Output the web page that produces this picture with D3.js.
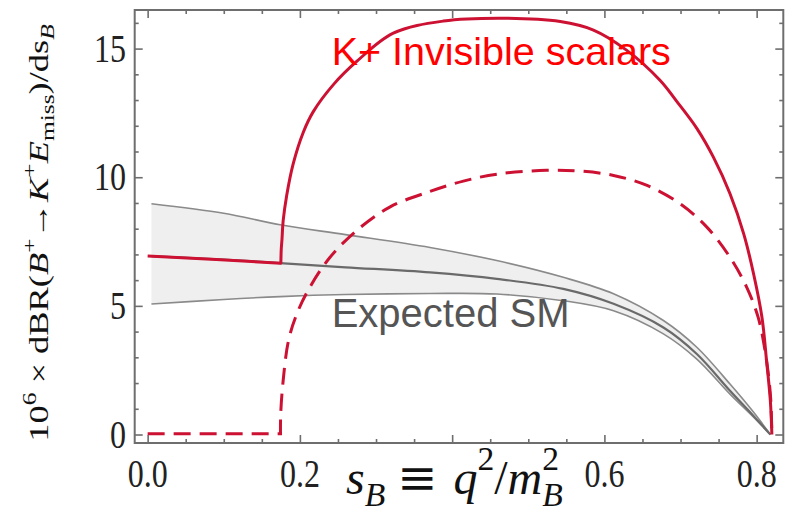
<!DOCTYPE html>
<html>
<head>
<meta charset="utf-8">
<script src="https://cdn.jsdelivr.net/npm/d3@7"></script>
<style>
  html, body { margin: 0; padding: 0; background: #fff; }
  svg { display: block; }
</style>
</head>
<body>
<svg id="chart" width="793" height="515"></svg>
<script>
// ---- data: differential branching ratio vs s_B = q^2 / m_B^2 ----
// Standard Model band (upper edge, central value, lower edge)
const sSM       = [0.005, 0.1, 0.174, 0.26, 0.371, 0.4586, 0.546, 0.612, 0.6775, 0.7214, 0.765, 0.795, 0.818];
const smUpper   = [8.97, 8.6, 8.15, 7.77, 7.27, 6.76, 6.11, 5.47, 4.43, 3.39, 1.96, 0.9, 0];
const smCentral = [6.93, 6.80, 6.66, 6.5, 6.30, 6.05, 5.66, 5.08, 4.16, 3.13, 1.70, 0.75, 0];
const smLower   = [5.07, 5.25, 5.36, 5.44, 5.48, 5.46, 5.20, 4.81, 3.91, 2.93, 1.57, 0.7, 0];

// SM + invisible scalar pair (solid), threshold at s_B ~ 0.175
const sTotal   = [0, 0.09, 0.175, 0.1755, 0.1765, 0.178, 0.1827, 0.191, 0.2045, 0.2176, 0.244, 0.2746, 0.3227, 0.3885, 0.467, 0.542, 0.5856, 0.629, 0.673, 0.695, 0.7214, 0.743, 0.765, 0.783, 0.796, 0.807, 0.813, 0.818, 0.820];
const totalVal = [6.94, 6.80, 6.66, 7.2, 7.6, 8.3, 9.3, 10.5, 11.75, 12.55, 13.6, 14.5, 15.6, 16.07, 16.18, 16.05, 15.72, 14.94, 13.77, 12.95, 11.9, 10.79, 9.36, 7.80, 6.24, 4.55, 2.87, 1.31, 0];
const thresholdIndex = 2;

// Scalar contribution alone (dashed)
const sScalar   = [0, 0.1745, 0.1748, 0.178, 0.185, 0.196, 0.213, 0.2396, 0.2746, 0.318, 0.371, 0.4147, 0.4586, 0.524, 0.568, 0.612, 0.656, 0.6995, 0.7346, 0.765, 0.787, 0.802, 0.811, 0.818, 0.820];
const scalarVal = [0.03, 0.03, 0.8, 2.09, 3.65, 4.69, 5.72, 6.89, 7.93, 8.84, 9.45, 9.85, 10.12, 10.27, 10.24, 10.07, 9.68, 8.97, 8.06, 6.89, 5.72, 4.55, 3.26, 1.57, 0];
const scalarThresholdIndex = 1;

// axis ticks and labels
const xMajor = [0, 0.2, 0.4, 0.6, 0.8];
const xLabelled = [0, 0.2, 0.6, 0.8];
const xMinor = [0.05, 0.1, 0.15, 0.25, 0.3, 0.35, 0.45, 0.5, 0.55, 0.65, 0.7, 0.75];
const yMajor = [0, 5, 10, 15];
const yMinor = [1, 2, 3, 4, 6, 7, 8, 9, 11, 12, 13, 14, 16];

const labelScalar = "K+ Invisible scalars";
const labelSM = "Expected SM";

// ---- layout ----
const svg = d3.select("#chart");
const L = 134.7, R = 783.3, T = 10, B = 443;
const x = d3.scaleLinear().domain([-0.017, 0.835]).range([L, R]);
const y = d3.scaleLinear().domain([-0.33, 16.5]).range([B, T]);

const frameColor = "#6e6e6e";
const red = "#cc1133";
const serif = "'Liberation Serif', 'DejaVu Serif', serif";
const sans = "'Liberation Sans', Arial, sans-serif";

const zip = (xs, ys) => xs.map((s, i) => [s, ys[i]]);
const smooth = d3.curveCatmullRom.alpha(0.5);

// ---- SM band ----
const band = sSM.map((s, i) => ({ s, lo: smLower[i], hi: smUpper[i] }));
svg.append("path")
  .attr("d", d3.area().x(d => x(d.s)).y0(d => y(d.lo)).y1(d => y(d.hi)).curve(smooth)(band))
  .attr("fill", "#efefef");

const line = d3.line().x(d => x(d[0])).y(d => y(d[1])).curve(smooth);
[[smUpper, "#8a8a8a", 1.6], [smLower, "#8a8a8a", 1.6], [smCentral, "#6a6a6a", 2.2]].forEach(([vals, c, w]) => {
  svg.append("path").attr("d", line(zip(sSM, vals)))
    .attr("fill", "none").attr("stroke", c).attr("stroke-width", w);
});

// ---- red curves: straight below threshold, smooth above ----
const linear = d3.line().x(d => x(d[0])).y(d => y(d[1]));
function thresholdPath(xs, ys, k) {
  const pts = zip(xs, ys);
  const below = linear(pts.slice(0, k + 1));
  const above = line(pts.slice(k)).replace(/^M/, "L");
  return below + above;
}

svg.append("path")
  .attr("d", thresholdPath(sScalar, scalarVal, scalarThresholdIndex))
  .attr("fill", "none").attr("stroke", red).attr("stroke-width", 3)
  .attr("stroke-dasharray", "17,9");

svg.append("path")
  .attr("d", thresholdPath(sTotal, totalVal, thresholdIndex))
  .attr("fill", "none").attr("stroke", red).attr("stroke-width", 3)
  .attr("stroke-linejoin", "round");

// ---- frame and ticks (inward, on all four sides) ----
const axes = svg.append("g").attr("class", "axes");
function addAxis(axisFn, scale, values, size, transform) {
  const g = axes.append("g").attr("transform", transform)
    .call(axisFn(scale).tickValues(values).tickSize(-size).tickFormat(""));
  g.select(".domain").remove();
  g.selectAll(".tick line").attr("stroke", frameColor).attr("stroke-width", 1.6);
  return g;
}
addAxis(d3.axisBottom, x, xMajor, 8, `translate(0,${B})`);
addAxis(d3.axisBottom, x, xMinor, 4, `translate(0,${B})`);
addAxis(d3.axisTop, x, xMajor, 8, `translate(0,${T})`);
addAxis(d3.axisTop, x, xMinor, 4, `translate(0,${T})`);
addAxis(d3.axisLeft, y, yMajor, 8, `translate(${L},0)`);
addAxis(d3.axisLeft, y, yMinor, 4, `translate(${L},0)`);
addAxis(d3.axisRight, y, yMajor, 8, `translate(${R},0)`);
addAxis(d3.axisRight, y, yMinor, 4, `translate(${R},0)`);

axes.append("rect")
  .attr("x", L).attr("y", T).attr("width", R - L).attr("height", B - T)
  .attr("fill", "none").attr("stroke", frameColor).attr("stroke-width", 2);

// tick labels (serif, slightly tall)
const tickFont = 32, stretch = 1.25;
svg.append("g").selectAll("text").data(xLabelled).join("text")
  .attr("transform", d => `translate(${x(d)},487) scale(1,${stretch})`)
  .attr("text-anchor", "middle")
  .attr("font-family", serif).attr("font-size", tickFont).attr("fill", "#222")
  .text(d => d3.format(".1f")(d));

svg.append("g").selectAll("text").data(yMajor).join("text")
  .attr("transform", d => `translate(126,${y(d) + 13})  scale(1,${stretch})`)
  .attr("text-anchor", "end")
  .attr("font-family", serif).attr("font-size", tickFont).attr("fill", "#222")
  .text(d => d);

// ---- rich text helper for math-style titles ----
function richText(sel, F, parts, supShift = 0.42, subShift = 0.22) {
  let offset = 0;
  parts.forEach(p => {
    const target = p.sup ? -supShift * F : p.sub ? subShift * F : 0;
    const ts = sel.append("tspan")
      .attr("font-size", (p.sup || p.sub) ? 0.7 * F : F)
      .attr("dy", target - offset)
      .attr("font-style", p.i ? "italic" : "normal")
      .text(p.t);
    if (p.dx) ts.attr("dx", p.dx);
    if (p.family) ts.attr("font-family", p.family);
    offset = target;
  });
}

// y-axis title
const yTitle = svg.append("text")
  .attr("transform", `translate(48,233) scale(1,1.3) rotate(-90)`)
  .attr("text-anchor", "middle")
  .attr("font-family", serif).attr("font-size", 28).attr("fill", "#111");
richText(yTitle, 28, [
  { t: "10" }, { t: "6", sup: true }, { t: " × dBR(" },
  { t: "B", i: true }, { t: "+", sup: true }, { t: "→" },
  { t: "K", i: true }, { t: "+", sup: true }, { t: "E", i: true },
  { t: "miss", sub: true }, { t: ")/ds" }, { t: "B", sub: true, i: true }
]);

// x-axis title
const xF = 48;
const xTitle = svg.append("text")
  .attr("x", 346).attr("y", 494)
  .attr("font-family", serif).attr("font-size", xF).attr("fill", "#111");
richText(xTitle, xF, [
  { t: "s", i: true }, { t: "B", sub: true, i: true },
  { t: "≡", dx: 12, family: "'DejaVu Serif', serif" }, { t: "q", i: true, dx: 16 }, { t: "2", sup: true },
  { t: "/" }, { t: "m", i: true }, { t: "B", sub: true, i: true },
  { t: "2", sup: true, dx: -0.428 * xF }
], 0.5, 0.25);

// ---- annotations ----
svg.append("text").attr("x", 331.7).attr("y", 65)
  .attr("font-family", sans).attr("font-size", 39.5).attr("fill", "#ff0000")
  .text(labelScalar);
svg.append("text").attr("x", 331.7).attr("y", 327)
  .attr("font-family", sans).attr("font-size", 40).attr("fill", "#555")
  .text(labelSM);
</script>
</body>
</html>
